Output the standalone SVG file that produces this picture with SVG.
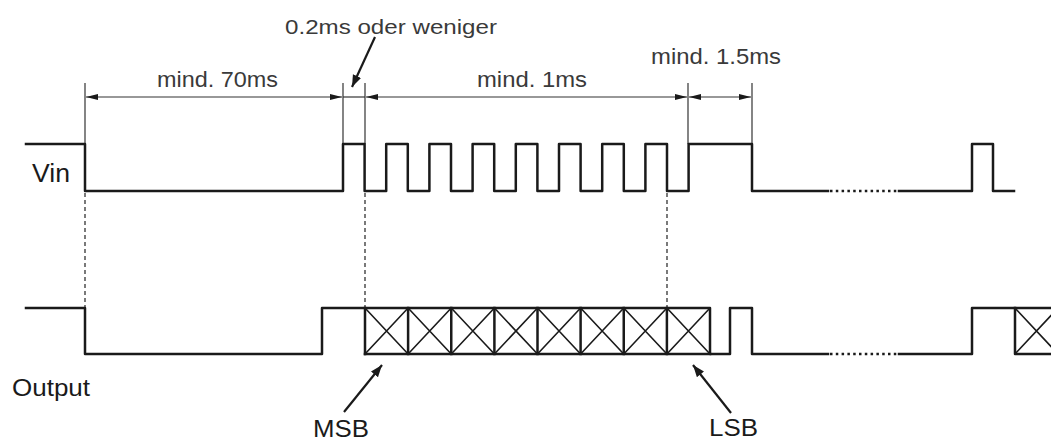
<svg xmlns="http://www.w3.org/2000/svg" width="1051" height="442" viewBox="0 0 1051 442">
  <style>
    .wave { fill: none; stroke: #1a1a1a; stroke-width: 2.5; stroke-linejoin: round; stroke-linecap: square; }
    .dots { fill: none; stroke: #1a1a1a; stroke-width: 2.5; stroke-dasharray: 2.5 3.3; }
    .diag { fill: none; stroke: #1a1a1a; stroke-width: 1.6; }
    .ext { fill: none; stroke: #333; stroke-width: 1.2; }
    .dim { fill: none; stroke: #333; stroke-width: 1.2; }
    .dash { fill: none; stroke: #333; stroke-width: 1.3; stroke-dasharray: 4 3; }
    .ptr { fill: none; stroke: #1a1a1a; stroke-width: 2.2; }
    .lbl { font-family: "Liberation Sans", Arial, sans-serif; fill: #3a3a3a; }
    .sig { font-family: "Liberation Sans", Arial, sans-serif; fill: #1a1a1a; }
  </style>
  <defs>
    <marker id="dimArrow" markerUnits="userSpaceOnUse" markerWidth="13" markerHeight="7" refX="12" refY="3" orient="auto-start-reverse">
      <path d="M0,0 L12,3 L0,6 z" fill="#1a1a1a"/>
    </marker>
    <marker id="ptrArrow" markerUnits="userSpaceOnUse" markerWidth="14" markerHeight="10" refX="12" refY="4.5" orient="auto">
      <path d="M0,0 L12,4.5 L0,9 z" fill="#1a1a1a"/>
    </marker>
  </defs>
  <rect width="1051" height="442" fill="#ffffff"/>

  <g id="connectors">
    <g id="extensions">
      <line class="ext" x1="85" y1="83" x2="85" y2="144"/>
      <line class="ext" x1="343" y1="83" x2="343" y2="144"/>
      <line class="ext" x1="365" y1="83" x2="365" y2="144"/>
      <line class="ext" x1="688" y1="83" x2="688" y2="144"/>
      <line class="ext" x1="752" y1="83" x2="752" y2="144"/>
    </g>
    <g id="dimensions">
      <line class="dim" x1="86" y1="97" x2="342" y2="97" marker-start="url(#dimArrow)" marker-end="url(#dimArrow)"/>
      <line class="dim" x1="343" y1="97" x2="365" y2="97"/>
      <line class="dim" x1="366" y1="97" x2="687" y2="97" marker-start="url(#dimArrow)" marker-end="url(#dimArrow)"/>
      <line class="dim" x1="689" y1="97" x2="751" y2="97" marker-start="url(#dimArrow)" marker-end="url(#dimArrow)"/>
    </g>
    <g id="alignment">
      <line class="dash" x1="85" y1="193" x2="85" y2="307"/>
      <line class="dash" x1="365" y1="193" x2="365" y2="307"/>
      <line class="dash" x1="667" y1="193" x2="667" y2="307"/>
    </g>
    <line class="ptr" x1="375" y1="37" x2="352" y2="87" marker-end="url(#ptrArrow)"/>
    <line class="ptr" x1="344" y1="412" x2="382" y2="365" marker-end="url(#ptrArrow)"/>
    <line class="ptr" x1="731" y1="413" x2="693" y2="365" marker-end="url(#ptrArrow)"/>
  </g>

  <g id="vin">
    <path class="wave" d="M26,144 H85 V191 H343 V144 H364.6 V191 H386.2 V144 H407.8 V191 H429.4 V144 H451 V191 H472.6 V144 H494.2 V191 H515.8 V144 H537.4 V191 H559 V144 H580.6 V191 H602.2 V144 H623.8 V191 H645.4 V144 H667 V191 H688.6 V144 H752 V191 H828"/>
    <line class="dots" x1="830" y1="191" x2="898" y2="191"/>
    <path class="wave" d="M899,191 H972 V144 H993 V191 H1014"/>
    <text class="sig" x="32" y="182" font-size="25" textLength="38" lengthAdjust="spacingAndGlyphs">Vin</text>
  </g>

  <g id="output">
    <path class="wave" d="M26,308 H85 V354 H322 V308 H710 V354 H730 V308 H752 V354 H828"/>
    <line class="wave" x1="365" y1="354" x2="710" y2="354"/>
    <path class="wave" d="M365,308 V354 M408.1,308 V354 M451.25,308 V354 M494.4,308 V354 M537.5,308 V354 M580.6,308 V354 M623.75,308 V354 M666.9,308 V354"/>
    <path class="diag" d="M365,308 L408.1,354 M365,354 L408.1,308 M408.1,308 L451.25,354 M408.1,354 L451.25,308 M451.25,308 L494.4,354 M451.25,354 L494.4,308 M494.4,308 L537.5,354 M494.4,354 L537.5,308 M537.5,308 L580.6,354 M537.5,354 L580.6,308 M580.6,308 L623.75,354 M580.6,354 L623.75,308 M623.75,308 L666.9,354 M623.75,354 L666.9,308 M666.9,308 L710,354 M666.9,354 L710,308"/>
    <line class="dots" x1="830" y1="354" x2="898" y2="354"/>
    <path class="wave" d="M899,354 H972 V308 H1053"/>
    <path class="wave" d="M1015,308 V354 H1053"/>
    <path class="diag" d="M1015,308 L1058,354 M1015,354 L1058,308"/>
    <text class="sig" x="12" y="396" font-size="24" textLength="78" lengthAdjust="spacingAndGlyphs">Output</text>
  </g>

  <g id="labels">
    <text class="lbl" x="285" y="33.5" font-size="20" textLength="212" lengthAdjust="spacingAndGlyphs">0.2ms oder weniger</text>
    <text class="lbl" x="157" y="87" font-size="22" textLength="121" lengthAdjust="spacingAndGlyphs">mind. 70ms</text>
    <text class="lbl" x="477" y="87" font-size="22" textLength="110" lengthAdjust="spacingAndGlyphs">mind. 1ms</text>
    <text class="lbl" x="651" y="63.5" font-size="22" textLength="130" lengthAdjust="spacingAndGlyphs">mind. 1.5ms</text>
    <text class="sig" x="313" y="437" font-size="23" textLength="56" lengthAdjust="spacingAndGlyphs">MSB</text>
    <text class="sig" x="709" y="436" font-size="24" textLength="49" lengthAdjust="spacingAndGlyphs">LSB</text>
  </g>
</svg>
